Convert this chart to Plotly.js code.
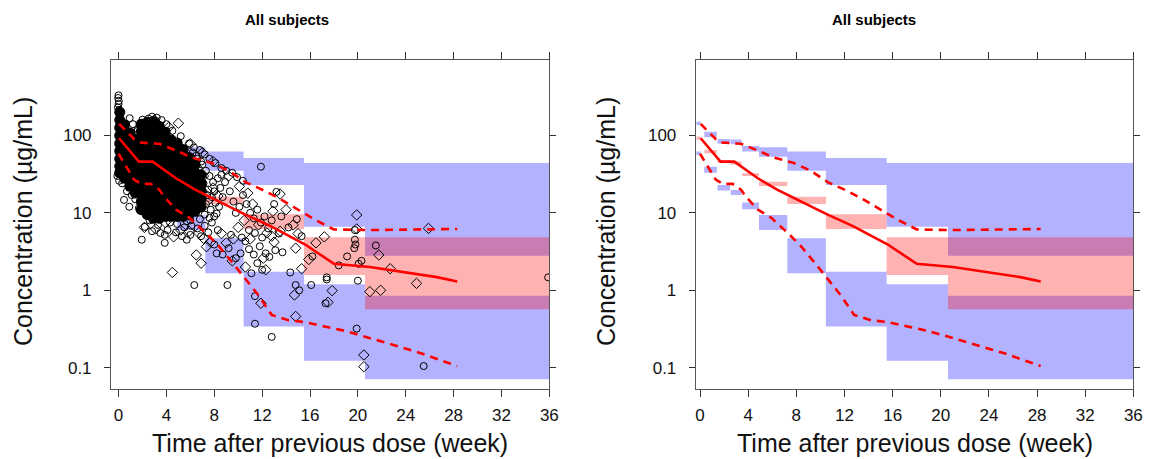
<!DOCTYPE html>
<html>
<head>
<meta charset="utf-8">
<script src="https://cdn.plot.ly/plotly-3.0.1.min.js"></script>
<style>html,body{margin:0;padding:0;background:#fff;}#chart{width:1149px;height:459px;}</style>
</head>
<body>
<div id="chart"></div>
<script>
// ---- prediction-interval bins (time in weeks) ----
const binStart = [-0.3, 0.35, 1.45, 2.55, 3.5, 4.9, 7.25, 10.45, 15.5, 20.6];
const binEnd   = [0.05, 1.4, 2.5, 3.45, 4.9, 7.25, 10.45, 15.5, 20.6, 36];
// CI of simulated 95th percentile
const p95Lo = [137, 95, 78, 77, 62, 53, 35, 23, 6.6, 2.8];
const p95Hi = [151, 112, 90, 89, 73, 70.5, 62, 51, 44, 44];
// CI of simulated median
const p50Lo = [88, 59, 44, 42, 30, 22.3, 13, 6.2, 1.58, 0.57];
const p50Hi = [97, 65, 48, 46, 32.5, 25.3, 16.2, 9.6, 4.84, 4.84];
// CI of simulated 5th percentile
const p05Lo = [56, 33, 19.4, 17, 11.1, 6.0, 1.66, 0.34, 0.123, 0.071];
const p05Hi = [62, 39.5, 22.9, 19.8, 13.6, 9.4, 4.7, 1.74, 1.2, 0.85];

// ---- observed percentiles ----
const obsT95 = [0.05, 1.3, 1.75, 3.4, 4.9, 6.1, 7.8, 9.2, 10.6, 12.3, 13.6, 15.3, 16.4, 18.0, 21.0, 28.3];
const obsC95 = [141, 90, 81, 78, 63, 52, 44, 35, 25, 19, 14.8, 10.5, 8.2, 6.1, 6.0, 6.2];
const obsT50 = [0.05, 1.7, 2.85, 4.8, 6.4, 8.6, 10.6, 12.75, 15.6, 18.0, 21.0, 26.6, 28.3];
const obsC50 = [92, 46, 46, 28, 20, 13.4, 9.5, 6.7, 3.9, 2.2, 2.0, 1.48, 1.3];
const obsT05 = [0.0, 1.3, 1.9, 2.7, 3.4, 3.8, 4.8, 5.9, 7.4, 8.4, 9.7, 10.85, 11.7, 12.8, 14.2, 15.5, 18.9, 21.9, 25.2, 28.3];
const obsC05 = [58, 27, 23.7, 23.7, 20, 16.3, 11, 8.7, 5.3, 3.7, 2.1, 1.28, 0.86, 0.48, 0.41, 0.39, 0.30, 0.22, 0.155, 0.105];

// ---- observed concentrations: dense core (overlapping symbols) ----
const coreT = [
 0.1,0.1,0.1,0.1,0.1,0.1,0.1,0.1,0.1,
 0.5,0.5,0.5,0.5,0.5,0.5,0.5,0.5,
 0.95,0.95,0.95,0.95,0.95,0.95,0.95,0.95,
 1.4,1.4,1.4,1.4,1.4,1.4,1.4,1.4,
 1.9,1.9,1.9,1.9,1.9,1.9,1.9,1.9,1.9,1.9,1.9,1.9,
 2.4,2.4,2.4,2.4,2.4,2.4,2.4,2.4,2.4,2.4,2.4,2.4,2.4,
 2.9,2.9,2.9,2.9,2.9,2.9,2.9,2.9,2.9,2.9,2.9,2.9,2.9,2.9,
 3.4,3.4,3.4,3.4,3.4,3.4,3.4,3.4,3.4,3.4,3.4,3.4,3.4,
 3.9,3.9,3.9,3.9,3.9,3.9,3.9,3.9,3.9,3.9,3.9,3.9,
 4.4,4.4,4.4,4.4,4.4,4.4,4.4,4.4,4.4,4.4,4.4,
 4.9,4.9,4.9,4.9,4.9,4.9,4.9,4.9,4.9,4.9,4.9,
 5.4,5.4,5.4,5.4,5.4,5.4,5.4,5.4,5.4,5.4,
 5.9,5.9,5.9,5.9,5.9,5.9,5.9,5.9,5.9,
 6.4,6.4,6.4,6.4,6.4,6.4,6.4,
 6.9,6.9,6.9,6.9,6.9];
const coreC = [
 33,40,50,63,79,100,126,158,200,
 28,35,44,56,70,88,111,138,
 22,28,35,44,56,70,88,108,
 18,23,29,36,45,57,72,90,
 11,14,18,23,29,36,45,57,72,90,113,140,
 9.5,12,15,19,24,30,38,48,60,76,95,120,148,
 8.5,10.7,13.5,17,21,27,34,43,54,68,85,107,135,152,
 8.5,10.7,13.5,17,21,27,34,43,54,68,85,107,132,
 9,11.3,14.3,18,22.6,28.5,36,45,57,72,90,110,
 9,11.3,14.3,18,22.6,28.5,36,45,57,72,88,
 9,11.3,14.3,18,22.6,28.5,36,45,57,70,80,
 9,10.7,13.5,17,21,27,34,43,54,66,
 9.5,12,14.5,18,22,27,34,42,52,
 10.5,13,16.5,21,26,33,42,
 12,15,19,24,31];

// ---- observed concentrations: individually visible circles ----
const circT = [-0.05,0.0,0.02,-0.03,0.0,0.05,0.93,1.2,1.6,2.0,2.5,2.8,3.2,3.6,4.0,4.5,5.2,5.9,6.3,6.8,7.2,7.6,8.1,8.6,9.0,9.5,9.9,10.4,
 0.46,0.9,1.4,1.7,2.2,2.6,1.94,3.86,3.86,3.3,4.3,4.9,5.7,5.5,6.1,6.33,6.6,7.2,7.8,8.2,9.1,10.2,8.0,8.4,8.7,8.5,8.9,9.3,9.6,9.8,10.1,10.4,10.7,11.0,11.3,11.6,11.9,12.2,12.5,12.8,10.9,11.4,12.0,
 11.1,11.4,11.4,12.8,11.6,12.0,12.3,13.7,13.4,14.35,14.8,15.1,16.2,16.1,17.4,17.4,17.3,18.4,19.1,19.75,19.75,19.8,19.7,20.06,20.3,20.0,19.9,21.5,25.5,35.9,11.9,13.0,13.6,14.2,14.9,15.3,9.4,10.6,13.2,
 9.2,9.8,10.3,10.9,11.3,11.8,12.6,13.1,8.7,8.0,2.8,3.5,4.1,4.8,5.3,6.0,6.9,7.5,8.3,
 6.6,7.0,7.3,7.6,7.9,7.5,7.8,7.3,7.7,8.1,8.0,8.3,8.6,7.2,7.6,6.8,8.2,7.1,7.4,6.9,6.5,6.2,6.0,5.7,0.05,-0.1,0.3,0.7,1.1];
const circC = [230,255,280,305,330,215,167,140,120,160,165,175,170,158,140,115,98,79,70,65,57,50,44,38,35,33,29,26,
 14.7,12,15,11.5,6.6,8,4.5,5.2,4.1,7,7.5,7.2,4.5,6.5,6.8,1.17,6.3,6.8,7.5,3.0,1.17,3.0,9,12,16,21,25,19,14,10,12,17,13,10,8.5,11,7.5,9,6.3,8,6,5.5,4.8,
 1.66,0.84,0.37,0.25,2.24,1.84,3.0,3.1,5.4,1.7,1.17,1.0,2.74,1.17,1.47,1.38,0.68,2.1,2.74,6.0,4.5,3.9,3.5,2.2,2.4,1.33,0.32,3.8,0.105,1.47,39.5,13,9,6.5,8.3,5,5.2,4.3,18.7,
 3.5,2.6,4.8,3.4,2.9,3.7,2.7,3.3,2.9,3.9,5.8,5.5,6.0,5.6,5.0,5.2,5.0,5.6,6.0,
 50,42,35,30,25,20,16,13,11,13.5,19,28,31,9.5,8.6,8.3,9.8,24,17,46,55,60,8,7.8,26,30,24,19,17];

// ---- observed concentrations: individually visible diamonds ----
const diamT = [5.0,4.2,3.0,1.5,6.0,7.0,7.9,9.2,10.1,10.8,
 2.16,4.5,6.5,6.9,7.35,9.0,9.6,3.9,5.2,6.7,7.7,8.6,10.0,10.5,11.2,11.7,12.4,13.0,13.5,14.0,14.6,15.0,
 11.9,12.3,14.8,14.7,14.8,15.3,15.9,16.5,17.2,17.85,17.5,19.9,19.9,20.5,20.5,21.0,21.75,21.9,22.7,24.9,25.9,13.5,12.9,
 9.5,10.6,12.1,12.8,11.0,3.1,4.6,5.9,7.1,
 7.1,7.5,7.9,8.3,7.0,6.6];
const diamC = [144,128,158,110,78,60,46,30,22,18,
 6.5,1.7,2.86,2.24,3.66,4.1,4.6,7.5,6.0,5.5,4.2,5.4,6.5,8,13,7,5.5,4.2,17.5,11,7.0,5.4,
 0.68,1.84,3.5,0.87,0.46,1.9,2.5,4.1,4.9,0.99,0.70,6.2,9.4,0.146,0.103,0.96,2.86,1.0,1.9,1.23,6.3,5.8,10.5,
 2.4,2.0,2.6,5.0,4.6,6.2,4.9,5.8,4.7,
 30,14.5,21,16.5,19,38];

const xTicks = [0,4,8,12,16,20,24,28,32,36];
const yTicks = [0.1,1,10,100];
const yTickText = ['0.1','1','10','100'];

const BLUE = 'rgba(0,0,255,0.3)';
const PINK = 'rgba(255,0,0,0.3)';

function boxTrace(lo, hi, color, xa, ya) {
  const xs = [], ys = [];
  for (let i = 0; i < binStart.length; i++) {
    xs.push(binStart[i], binEnd[i], binEnd[i], binStart[i], binStart[i], null);
    ys.push(lo[i], lo[i], hi[i], hi[i], lo[i], null);
  }
  return {type:'scatter', mode:'lines', x:xs, y:ys, fill:'toself', fillcolor:color,
          line:{width:0, color:color}, xaxis:xa, yaxis:ya, hoverinfo:'skip', showlegend:false};
}
function lineTrace(t, c, dash, xa, ya) {
  return {type:'scatter', mode:'lines', x:t, y:c, line:{color:'#ff0000', width:2.6, dash:dash},
          xaxis:xa, yaxis:ya, hoverinfo:'skip', showlegend:false};
}

const traces = [];
[['x','y'],['x2','y2']].forEach(([xa,ya]) => {
  traces.push(boxTrace(p95Lo, p95Hi, BLUE, xa, ya));
  traces.push(boxTrace(p05Lo, p05Hi, BLUE, xa, ya));
  traces.push(boxTrace(p50Lo, p50Hi, PINK, xa, ya));
  if (xa === 'x') {
    traces.push({type:'scatter', mode:'markers', x:coreT, y:coreC, xaxis:'x', yaxis:'y',
      marker:{symbol:'circle', size:11, color:'#000'}, hoverinfo:'skip', showlegend:false});
    traces.push({type:'scatter', mode:'markers', x:circT, y:circC, xaxis:'x', yaxis:'y',
      marker:{symbol:'circle-open', size:7, color:'#000', line:{width:1, color:'#000'}}, hoverinfo:'skip', showlegend:false});
    traces.push({type:'scatter', mode:'markers', x:diamT, y:diamC, xaxis:'x', yaxis:'y',
      marker:{symbol:'diamond-open', size:8, color:'#000', line:{width:1, color:'#000'}}, hoverinfo:'skip', showlegend:false});
  }
  traces.push(lineTrace(obsT95, obsC95, '8px,6px', xa, ya));
  traces.push(lineTrace(obsT05, obsC05, '8px,6px', xa, ya));
  traces.push(lineTrace(obsT50, obsC50, 'solid', xa, ya));
});

const FONT = 'Liberation Sans, Arial, sans-serif';
function xAxis(domain, range) {
  return {domain:domain, range:range, tickvals:xTicks, ticks:'outside', ticklen:7, tickwidth:1,
    tickcolor:'#333', showline:true, linecolor:'#555', linewidth:1, mirror:'ticks',
    showgrid:false, zeroline:false, tickfont:{family:FONT, size:17, color:'#111'}, ticklabelstandoff:4, fixedrange:true};
}
function yAxis(domain, anchor) {
  return {domain:domain, type:'log', range:[-1.275, 2.975], tickvals:yTicks, ticktext:yTickText,
    ticks:'outside', ticklen:6, tickwidth:1, tickcolor:'#333', showline:true, linecolor:'#555', linewidth:1,
    mirror:'ticks', showgrid:false, zeroline:false, anchor:anchor,
    tickfont:{family:FONT, size:17, color:'#111'}, ticklabelstandoff:9, fixedrange:true};
}
const yDom = [0.1525, 0.8693];
const layout = {
  width:1149, height:459, margin:{l:0, r:0, t:0, b:0},
  paper_bgcolor:'#fff', plot_bgcolor:'rgba(0,0,0,0)', showlegend:false,
  xaxis: Object.assign(xAxis([0.0966, 0.4781], [-0.63, 36]), {anchor:'y'}),
  yaxis: yAxis(yDom, 'x'),
  xaxis2: Object.assign(xAxis([0.6055, 0.9864], [-0.36, 36]), {anchor:'y2'}),
  yaxis2: yAxis(yDom, 'x2'),
  annotations: [
    {text:'<b>All subjects</b>', xref:'paper', yref:'paper', x:287/1149, y:1-19/459, showarrow:false,
     font:{family:FONT, size:15, color:'#000'}, xanchor:'center', yanchor:'middle'},
    {text:'<b>All subjects</b>', xref:'paper', yref:'paper', x:874/1149, y:1-19/459, showarrow:false,
     font:{family:FONT, size:15, color:'#000'}, xanchor:'center', yanchor:'middle'},
    {text:'Time after previous dose (week)', xref:'paper', yref:'paper', x:330/1149, y:1-443/459, showarrow:false,
     font:{family:FONT, size:25, color:'#111'}, xanchor:'center', yanchor:'middle'},
    {text:'Time after previous dose (week)', xref:'paper', yref:'paper', x:914.5/1149, y:1-443/459, showarrow:false,
     font:{family:FONT, size:25, color:'#111'}, xanchor:'center', yanchor:'middle'},
    {text:'Concentration (µg/mL)', xref:'paper', yref:'paper', x:23/1149, y:1-222/459, showarrow:false, textangle:-90,
     font:{family:FONT, size:25, color:'#111'}, xanchor:'center', yanchor:'middle'},
    {text:'Concentration (µg/mL)', xref:'paper', yref:'paper', x:606/1149, y:1-222/459, showarrow:false, textangle:-90,
     font:{family:FONT, size:25, color:'#111'}, xanchor:'center', yanchor:'middle'}
  ]
};
Plotly.newPlot('chart', traces, layout, {staticPlot:true, displayModeBar:false});
</script>
</body>
</html>
